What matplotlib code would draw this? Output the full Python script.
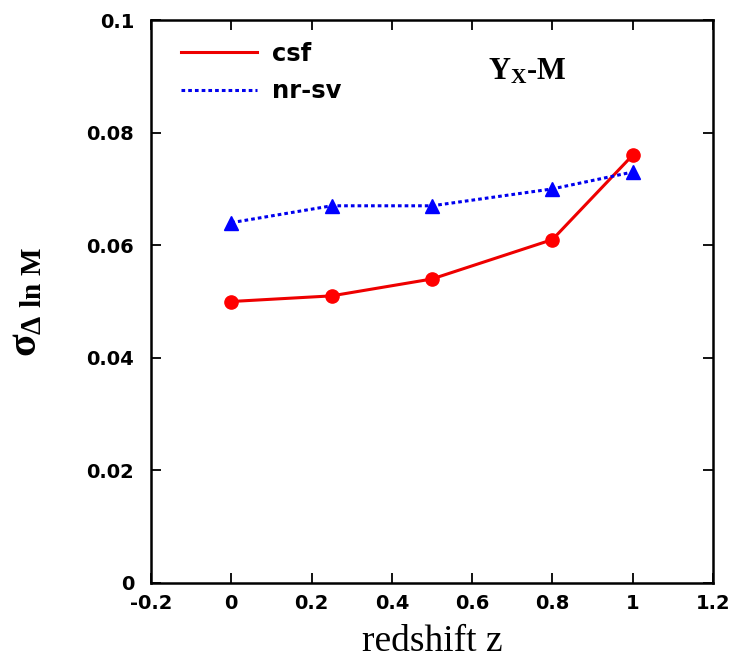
import matplotlib
matplotlib.use("Agg")
import matplotlib.pyplot as plt

z = [0.0, 0.25, 0.5, 0.8, 1.0]
csf = [0.050, 0.051, 0.054, 0.061, 0.076]
nrsv = [0.064, 0.067, 0.067, 0.070, 0.073]
xticks = [-0.2, 0, 0.2, 0.4, 0.6, 0.8, 1, 1.2]
xticklabels = ["-0.2", "0", "0.2", "0.4", "0.6", "0.8", "1", "1.2"]
yticks = [0, 0.02, 0.04, 0.06, 0.08, 0.1]
yticklabels = ["0", "0.02", "0.04", "0.06", "0.08", "0.1"]

plt.rcParams['mathtext.fontset'] = 'custom'
plt.rcParams['mathtext.rm'] = 'Liberation Serif:bold'
plt.rcParams['mathtext.it'] = 'Liberation Serif:bold'
plt.rcParams['mathtext.bf'] = 'Liberation Serif:bold'

fig = plt.figure(figsize=(7.39, 6.66), dpi=100)
ax = fig.add_axes([151/739, 83/666, 562/739, 563/666])

ax.plot(z, csf, color='#ee0000', lw=2.2, marker='o', ms=9.5, mfc='#ff0000',
        mec='#ff0000', label='csf', zorder=3)
ax.plot(z, nrsv, color='#0000ee', lw=2.2, ls=(0, (1.2, 1.0)), marker='^', ms=9.5,
        mfc='#0000ff', mec='#0000ff', label='nr-sv', zorder=3)

ax.set_xlim(-0.2, 1.2)
ax.set_ylim(0, 0.1)
ax.set_xticks(xticks)
ax.set_xticklabels(xticklabels)
ax.set_yticks(yticks)
ax.set_yticklabels(yticklabels)
ax.tick_params(direction='in', top=True, right=True, length=7, width=1.3,
               labelsize=14)
ax.tick_params(axis='x', pad=8)
ax.tick_params(axis='y', pad=12)
for lab in ax.get_xticklabels() + ax.get_yticklabels():
    lab.set_family('DejaVu Sans')
    lab.set_fontweight('bold')
for s in ax.spines.values():
    s.set_linewidth(1.8)

ax.set_xlabel('redshift z', family='Liberation Serif', fontsize=27, labelpad=8)
ax.set_ylabel(r'$\sigma_{\Delta\ \mathrm{ln}\ \mathrm{M}}$', fontsize=30, labelpad=30)

ax.text(0.6395, 0.0908, r'$\mathbf{Y_X}$-M', family='Liberation Serif',
        fontweight='bold', fontsize=22, ha='left', va='center')

leg = ax.legend(loc='upper left', frameon=False, handlelength=3.1,
                handletextpad=0.65, labelspacing=0.55, borderaxespad=0.5,
                bbox_to_anchor=(0.015, 1.0),
                prop={'family': 'DejaVu Sans', 'weight': 'bold', 'size': 17.5})
for h in leg.legend_handles:
    h.set_marker('')

fig.savefig('out.png', dpi=100)
